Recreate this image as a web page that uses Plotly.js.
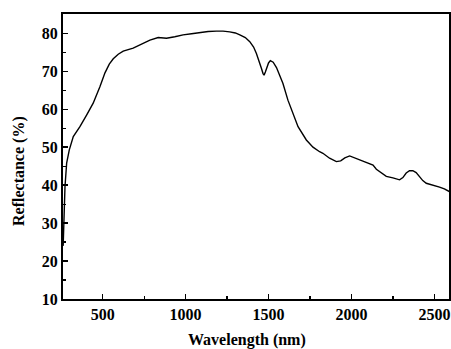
<!DOCTYPE html>
<html>
<head>
<meta charset="utf-8">
<script src="https://cdn.plot.ly/plotly-3.0.1.min.js"></script>
<style>html,body{margin:0;padding:0;background:#fff}#chart{width:451px;height:349px}</style>
</head>
<body>
<div id="chart"></div>
<script>
const wavelength = [262, 267, 273, 283, 299, 323, 363, 404, 443, 484, 514, 540, 564, 594, 624, 684, 744, 785, 835, 885, 935, 985, 1036, 1086, 1136, 1186, 1226, 1266, 1300, 1327, 1360, 1387, 1410, 1427, 1445, 1457, 1467, 1473, 1481, 1491, 1500, 1511, 1528, 1548, 1565, 1587, 1617, 1644, 1678, 1728, 1768, 1808, 1828, 1868, 1909, 1935, 1960, 1989, 2020, 2049, 2080, 2109, 2130, 2150, 2180, 2210, 2250, 2290, 2310, 2330, 2350, 2370, 2390, 2410, 2430, 2451, 2490, 2531, 2560, 2591];
const reflectance = [24, 30, 39.6, 45.8, 49.3, 52.8, 55.4, 58.5, 61.6, 66, 69.6, 71.9, 73.3, 74.5, 75.3, 76.1, 77.4, 78.2, 78.9, 78.7, 79.1, 79.6, 79.9, 80.3, 80.5, 80.6, 80.6, 80.4, 80.1, 79.6, 78.9, 77.8, 76.4, 74.7, 72.6, 70.8, 69.4, 69.0, 69.8, 71.2, 72.2, 72.8, 72.4, 71.0, 69.3, 66.8, 62.4, 59.4, 55.4, 51.9, 50.0, 48.8, 48.4, 47.1, 46.2, 46.4, 47.2, 47.7, 47.2, 46.7, 46.2, 45.8, 45.3, 44.2, 43.2, 42.3, 41.9, 41.4, 42.0, 43.2, 43.8, 43.8, 43.3, 42.3, 41.2, 40.5, 40.1, 39.5, 39.0, 38.3];
const xTicks = [500, 1000, 1500, 2000, 2500];
const yTicks = [10, 20, 30, 40, 50, 60, 70, 80];
const xTitle = 'Wavelength (nm)';
const yTitle = 'Reflectance (%)';

const fam = '"Liberation Serif", "Times New Roman", serif';
const tickFont = {family: fam, size: 16, color: '#000', weight: 'bold'};
const titleFont = {family: fam, size: 16, color: '#000', weight: 'bold'};
const trace = {
  x: wavelength, y: reflectance, type: 'scatter', mode: 'lines',
  line: {color: '#000', width: 1.4}, hoverinfo: 'skip'
};
const layout = {
  width: 451, height: 349,
  margin: {l: 63, r: 2, t: 14, b: 50},
  paper_bgcolor: '#fff', plot_bgcolor: '#fff',
  showlegend: false,
  font: {family: fam, size: 16, color: '#000'},
  xaxis: {
    range: [261, 2588], showgrid: false, zeroline: false,
    showline: true, mirror: true, linecolor: '#000', linewidth: 2,
    ticks: 'inside', ticklen: 5, tickwidth: 1.5, tickcolor: '#000',
    tickvals: xTicks, ticktext: xTicks.map(String), tickfont: tickFont,
    minor: {ticks: 'inside', ticklen: 3, tickwidth: 1.2, tickcolor: '#000', dtick: 250, tick0: 0}
  },
  yaxis: {
    range: [10, 85.1], showgrid: false, zeroline: false,
    showline: true, mirror: true, linecolor: '#000', linewidth: 2,
    ticks: 'inside', ticklen: 5, tickwidth: 1.5, tickcolor: '#000',
    tickvals: yTicks, ticktext: yTicks.map(String), tickfont: tickFont,
    minor: {ticks: 'inside', ticklen: 3, tickwidth: 1.2, tickcolor: '#000', dtick: 5, tick0: 0}
  },
  annotations: [
    {text: '<b>' + xTitle + '</b>', xref: 'paper', yref: 'paper', x: (247 - 63) / 386, y: -(340 - 299) / 285,
     xanchor: 'center', yanchor: 'middle', showarrow: false, font: titleFont},
    {text: '<b>' + yTitle + '</b>', xref: 'paper', yref: 'paper', x: -(63 - 19) / 386, y: (299 - 171) / 285,
     xanchor: 'center', yanchor: 'middle', textangle: -90, showarrow: false, font: titleFont}
  ]
};
Plotly.newPlot('chart', [trace], layout, {displayModeBar: false, staticPlot: true});
</script>
</body>
</html>
